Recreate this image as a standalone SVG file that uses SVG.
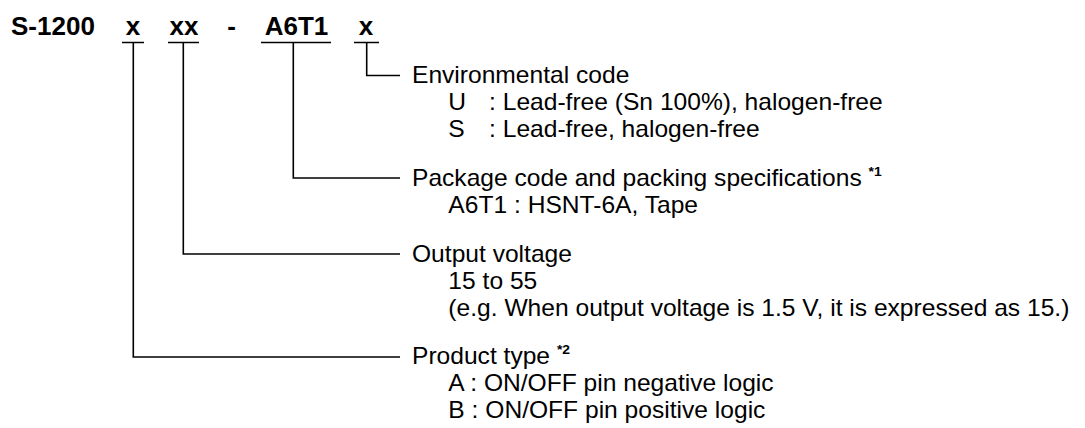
<svg xmlns="http://www.w3.org/2000/svg" width="1085" height="428" viewBox="0 0 1085 428">
<style>
.t{font-family:"Liberation Sans",Arial,sans-serif;font-weight:bold;font-size:26px;fill:#000}
.l{font-family:"Liberation Sans",Arial,sans-serif;font-size:23px;fill:#000}
.sup{font-weight:bold;font-size:13px}
.ln{stroke:#000;stroke-width:1.6;fill:none}
</style>
<rect width="1085" height="428" fill="#fff"/>
<g id="code">
<text class="t" x="11" y="35">S-1200</text>
<text class="t" x="133" y="35" text-anchor="middle">x</text>
<text class="t" x="184" y="35" text-anchor="middle">xx</text>
<text class="t" x="231.5" y="35" text-anchor="middle">-</text>
<text class="t" x="296.5" y="35" text-anchor="middle">A6T1</text>
<text class="t" x="366" y="35" text-anchor="middle">x</text>
</g>
<g id="connectors">
<path class="ln" d="M122 42.5H144M168 42.5H199M261 42.5H331M354 42.5H379"/>
<path class="ln" d="M366.7 42.5V75.5H400"/>
<path class="ln" d="M293.3 42.5V178H400"/>
<path class="ln" d="M183.3 42.5V254H400"/>
<path class="ln" d="M133.3 42.5V357H400"/>
</g>
<g id="env" transform="translate(412 0) scale(1.07 1)">
<text class="l" x="0" y="83">Environmental code</text>
<text class="l" x="34" y="110">U</text>
<text class="l" x="72" y="110">: Lead-free (Sn 100%), halogen-free</text>
<text class="l" x="34" y="137">S</text>
<text class="l" x="72" y="137">: Lead-free, halogen-free</text>
</g>
<g id="package" transform="translate(412 0) scale(1.07 1)">
<text class="l" x="0" y="186">Package code and packing specifications <tspan class="sup" dy="-10">*1</tspan></text>
<text class="l" x="34" y="213">A6T1 : HSNT-6A, Tape</text>
</g>
<g id="output" transform="translate(412 0) scale(1.07 1)">
<text class="l" x="0" y="262">Output voltage</text>
<text class="l" x="34" y="289">15 to 55</text>
<text class="l" x="34" y="316">(e.g. When output voltage is 1.5 V, it is expressed as 15.)</text>
</g>
<g id="product" transform="translate(412 0) scale(1.07 1)">
<text class="l" x="0" y="364">Product type <tspan class="sup" dy="-10">*2</tspan></text>
<text class="l" x="34" y="391">A : ON/OFF pin negative logic</text>
<text class="l" x="34" y="418">B : ON/OFF pin positive logic</text>
</g>
</svg>
